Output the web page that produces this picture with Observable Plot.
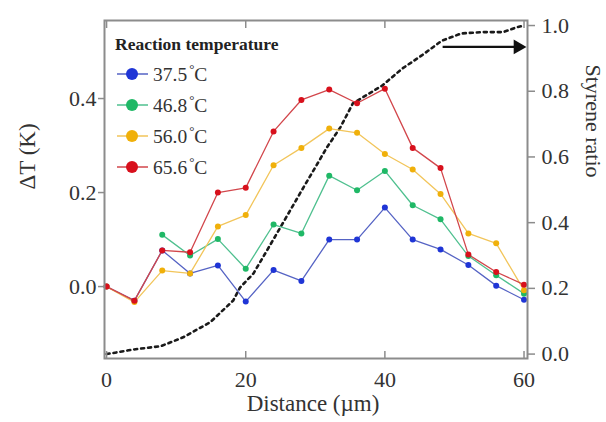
<!DOCTYPE html>
<html><head><meta charset="utf-8">
<script src="https://cdn.jsdelivr.net/npm/d3@7"></script>
<script src="https://cdn.jsdelivr.net/npm/@observablehq/plot@0.6"></script>
<style>
body{margin:0;background:#fff;}
#wrap{position:relative;width:606px;height:422px;overflow:hidden;}
#legend{position:absolute;left:0;top:0;pointer-events:none;}
</style></head><body><div id="wrap"></div>
<script>
// ---- data ----
const distance = [0,4,8,12,16,20,24,28,32,36,40,44,48,52,56,60];
const seriesNames = ["37.5","46.8","56.0","65.6"];
const dT375 = [0,-0.03,0.077,0.028,0.045,-0.032,0.035,0.012,0.1,0.1,0.168,0.1,0.079,0.046,0.002,-0.028];
const dT468 = [null,null,0.11,0.066,0.101,0.038,0.132,0.113,0.236,0.205,0.246,0.173,0.143,0.065,0.024,-0.015];
const dT560 = [0,-0.033,0.034,0.028,0.128,0.152,0.258,0.295,0.336,0.327,0.282,0.249,0.197,0.113,0.092,-0.008];
const dT656 = [0,-0.03,0.077,0.073,0.2,0.21,0.33,0.397,0.419,0.39,0.421,0.295,0.252,0.068,0.031,0.004];
const lineColors = ["#5563c4","#4fc08f","#f2c55a","#d2464b"];
const markerColors = ["#1f35d6","#1fb866","#f0b00a","#d8101c"];

const ratioDistance = [0,3.9,7.8,11,14.9,18.2,19.2,21.1,23.9,27.8,31.7,33.6,35.4,39.6,42.5,45.3,48.2,51,54.1,57,59,60];
const ratioValue    = [0,0.014,0.024,0.051,0.097,0.163,0.203,0.245,0.346,0.489,0.63,0.69,0.763,0.817,0.869,0.909,0.954,0.976,0.98,0.98,0.995,1.0];

const xTicks = [0,20,40,60];
const leftTicks = [0,0.2,0.4];
const rightTicks = [0,0.2,0.4,0.6,0.8,1.0];

const arrowX1 = [48.3];
const arrowX2 = [59.7];
const arrowRatio = [0.935];

// ---- right-axis mapping (styrene ratio -> ΔT coordinates) ----
const R0 = -0.1436, RK = 0.6989;
const toY = r => R0 + RK * r;
const fromY = v => (v - R0) / RK;

const allSeries = [dT375, dT468, dT560, dT656];
const rows = [];
allSeries.forEach((vals, i) => {
  distance.forEach((d, j) => {
    if (vals[j] != null) rows.push({series: seriesNames[i], x: d, y: vals[j]});
  });
});
const ratioRows = ratioDistance.map((d, i) => ({x: d, r: ratioValue[i]}));
const arrowRows = arrowX1.map((d, i) => ({x1: d, x2: arrowX2[i], r: arrowRatio[i]}));

const tickGray = "#8c8c8c";
const textColor = "#333";

const seriesMarks = [];
seriesNames.forEach((s, i) => {
  seriesMarks.push(Plot.line(rows.filter(d => d.series === s), {x: "x", y: "y", stroke: lineColors[i], strokeWidth: 1.3}));
});
seriesNames.forEach((s, i) => {
  seriesMarks.push(Plot.dot(rows.filter(d => d.series === s), {x: "x", y: "y", r: 3, fill: markerColors[i], stroke: "none"}));
});

const chart = Plot.plot({
  width: 606,
  height: 422,
  marginLeft: 104,
  marginRight: 79,
  marginTop: 20,
  marginBottom: 64,
  style: {fontFamily: "Liberation Serif", fontSize: "22px", color: textColor, background: "#fff"},
  x: {domain: [-0.3, 60.5], label: null},
  y: {domain: [-0.153, 0.566], label: null},
  marks: [
    Plot.line(ratioRows, {x: "x", y: d => toY(d.r), stroke: "#1a1a1a", strokeWidth: 2.6, strokeDasharray: "3,4"}),
    ...seriesMarks,
    Plot.link(arrowRows, {x1: "x1", x2: "x2", y1: d => toY(d.r), y2: d => toY(d.r), stroke: "#111", strokeWidth: 2.2}),
    Plot.dot(arrowRows, {x: "x2", y: d => toY(d.r), symbol: "triangle", rotate: 90, r: 5.5, dx: -4, fill: "#111", stroke: "none"}),
    Plot.frame({stroke: tickGray, strokeWidth: 2}),
    // left axis
    Plot.axisY(leftTicks, {anchor: "left", tickSize: 6, tickFormat: () => "", stroke: tickGray, strokeWidth: 1.5, label: null}),
    Plot.axisY(leftTicks, {anchor: "left", tickSize: 0, tickPadding: 8, tickFormat: d3.format(".1f"), fill: textColor, fontSize: 22, label: null}),
    // right axis (styrene ratio)
    Plot.axisY(rightTicks.map(toY), {anchor: "right", tickSize: 7, tickFormat: () => "", stroke: tickGray, strokeWidth: 1.5, label: null}),
    Plot.axisY(rightTicks.map(toY), {anchor: "right", tickSize: 0, tickPadding: 14, tickFormat: v => fromY(v).toFixed(1), fill: textColor, fontSize: 22, label: null}),
    // x axis
    Plot.axisX(xTicks, {anchor: "bottom", tickSize: -7, tickFormat: () => "", stroke: tickGray, strokeWidth: 1.5, label: null}),
    Plot.axisX(xTicks, {anchor: "top", tickSize: -7, tickFormat: () => "", stroke: tickGray, strokeWidth: 1.5, label: null}),
    Plot.axisX(xTicks, {anchor: "bottom", tickSize: 0, tickPadding: 13, fill: textColor, fontSize: 22, label: null}),
    // axis titles
    Plot.text(["ΔT (K)"], {text: d => d, frameAnchor: "left", dx: -77, rotate: -90, fontSize: 23, fill: textColor}),
    Plot.text(["Styrene ratio"], {text: d => d, frameAnchor: "right", dx: 66, dy: -12, rotate: 90, fontSize: 22, fill: textColor}),
    Plot.text(["Distance (µm)"], {text: d => d, frameAnchor: "bottom", dy: 52, dx: -3, fontSize: 23, fill: textColor})
  ]
});

const wrap = document.getElementById("wrap");
wrap.appendChild(chart);

// ---- legend overlay ----
const legendTitle = "Reaction temperature";
const leg = d3.select(wrap).append("svg").attr("id", "legend").attr("width", 606).attr("height", 422)
  .style("font-family", "Liberation Serif");
leg.append("text").attr("x", 115).attr("y", 50).attr("font-size", 17.5).attr("font-weight", "bold")
  .attr("fill", "#222").text(legendTitle);
seriesNames.forEach((s, i) => {
  const cy = 74 + i * 31;
  const g = leg.append("g");
  g.append("line").attr("x1", 117).attr("x2", 148).attr("y1", cy).attr("y2", cy)
    .attr("stroke", lineColors[i]).attr("stroke-width", 1.5);
  g.append("circle").attr("cx", 132).attr("cy", cy).attr("r", 6).attr("fill", markerColors[i]);
  const t = g.append("text").attr("x", 153).attr("y", cy + 7).attr("font-size", 19.5).attr("fill", textColor);
  t.append("tspan").text(s);
  t.append("tspan").attr("dy", -8).attr("dx", 2).attr("font-size", 13).text("°");
  t.append("tspan").attr("dy", 8).text("C");
});
</script></body></html>
